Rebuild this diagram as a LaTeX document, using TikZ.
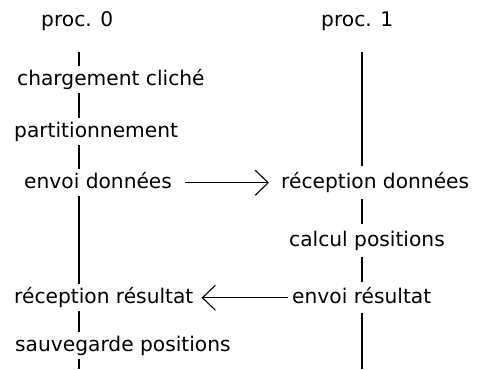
\documentclass[tikz,border=0pt]{standalone}
\usepackage{fontspec}
\setmainfont{DejaVu Sans}
\usetikzlibrary{arrows.meta}
\begin{document}
\begin{tikzpicture}[x=1pt,y=1pt,
  lbl/.style={anchor=base west, inner xsep=0pt, inner ysep=3pt, text height=15.5pt, text depth=5pt, font=\fontsize{20.2}{24}\selectfont},
  life/.style={line width=1.1pt},
  msg/.style={line width=1.1pt, -{Straight Barb[length=13pt,width=25pt,line width=1.1pt]}}]
\useasboundingbox (0,0) rectangle (481,-369);
\node[lbl] (p0) at (41,-27) {proc. 0};
\node[lbl] (p1) at (321,-27) {proc. 1};
\coordinate (t0) at (79,-52); \coordinate (b0) at (79,-369);
\coordinate (t1) at (362,-52); \coordinate (b1) at (362,-369);
\node[lbl] (a1) at (17,-85) {chargement cliché};
\node[lbl] (a2) at (14,-137) {partitionnement};
\node[lbl] (a3) at (24,-188) {envoi données};
\node[lbl] (a4) at (14,-303) {réception résultat};
\node[lbl] (a5) at (15,-351) {sauvegarde positions};
\node[lbl, inner ysep=6pt] (c1) at (281,-188) {réception données};
\node[lbl, inner ysep=6pt] (c2) at (289,-246) {calcul positions};
\node[lbl, inner ysep=5pt] (c3) at (292,-303) {envoi résultat};
% lifeline of proc. 0
\draw[life] (t0) -- (t0 |- a1.north);
\draw[life] (a1.south -| t0) -- (a2.north -| t0);
\draw[life] (a2.south -| t0) -- (a3.north -| t0);
\draw[life] (a3.south -| t0) -- (a4.north -| t0);
\draw[life] (a4.south -| t0) -- (a5.north -| t0);
\draw[life] (a5.south -| t0) -- (b0);
% lifeline of proc. 1
\draw[life] (t1) -- (t1 |- c1.north);
\draw[life] (c1.south -| t1) -- (c2.north -| t1);
\draw[life] (c2.south -| t1) -- (c3.north -| t1);
\draw[life] (c3.south -| t1) -- (b1);
% messages
\draw[msg, shorten <=13pt, shorten >=12pt] (a3.east) -- (c1.west);
\draw[msg, shorten <=4pt, shorten >=8pt] (c3.west) -- (a4.east);
\end{tikzpicture}
\end{document}
